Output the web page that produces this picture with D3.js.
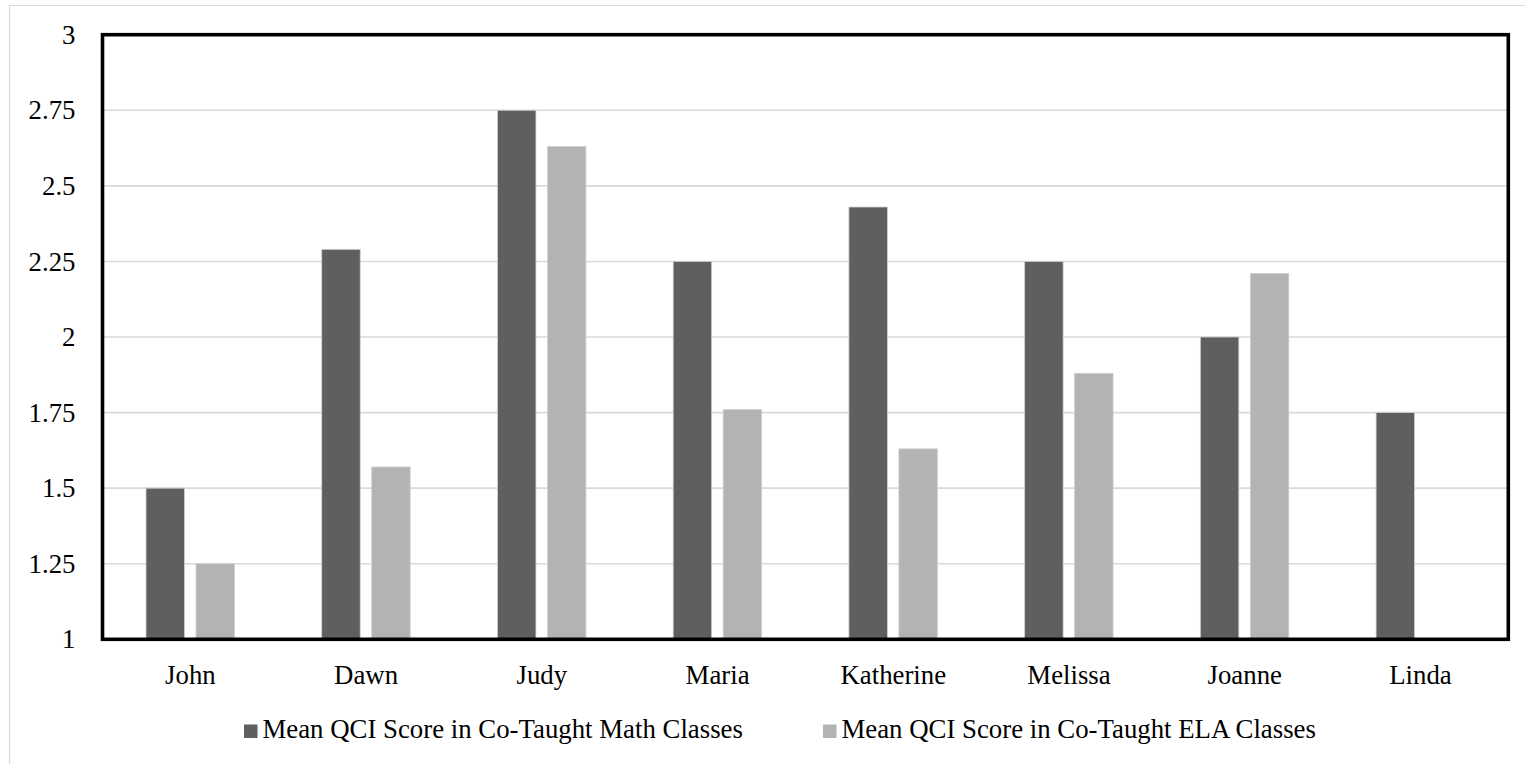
<!DOCTYPE html>
<html>
<head>
<meta charset="utf-8">
<script src="https://cdn.jsdelivr.net/npm/d3@7"></script>
<style>
  html, body { margin: 0; padding: 0; background: #fff; }
  svg { display: block; }
  text { font-family: "Liberation Serif", "Times New Roman", serif; fill: #000; }
</style>
</head>
<body>
<svg id="chart" width="1525" height="764"></svg>
<script>
// Teachers and their mean QCI scores
const teachers = ["John", "Dawn", "Judy", "Maria", "Katherine", "Melissa", "Joanne", "Linda"];
const mathScores = [1.5, 2.29, 2.75, 2.25, 2.43, 2.25, 2.0, 1.75];
const elaScores = [1.25, 1.57, 2.63, 1.76, 1.63, 1.88, 2.21, null];
const seriesNames = ["Mean QCI Score in Co-Taught Math Classes", "Mean QCI Score in Co-Taught ELA Classes"];
const seriesColors = ["#5f5f5f", "#b3b3b3"];
const yTicks = [1, 1.25, 1.5, 1.75, 2, 2.25, 2.5, 2.75, 3];

const svg = d3.select("#chart");
const W = 1525, H = 764;
const plot = { left: 102.5, top: 34.7, right: 1508.3, bottom: 639.3 };
const fontSize = 26.8;
const serif = '"Liberation Serif", "Times New Roman", serif';

// outer frame of the chart area
svg.append("path")
  .attr("d", `M9.5,${H} V5.5 H${W}`)
  .attr("fill", "none")
  .attr("stroke", "#d9d9d9")
  .attr("stroke-width", 1.2);

const x = d3.scaleBand().domain(teachers).range([plot.left, plot.right]).padding(0);
const y = d3.scaleLinear().domain([1, 3]).range([plot.bottom, plot.top]);
const bw = x.bandwidth();

// horizontal gridlines
svg.append("g")
  .selectAll("line")
  .data(yTicks.filter(t => t > 1 && t < 3))
  .join("line")
  .attr("x1", plot.left)
  .attr("x2", plot.right)
  .attr("y1", d => y(d))
  .attr("y2", d => y(d))
  .attr("stroke", "#d9d9d9")
  .attr("stroke-width", 1.6);

// bars
const barOffset = [0.2476 * bw, 0.532 * bw];
const barWidth = 0.219 * bw;
const rows = [];
teachers.forEach((t, i) => {
  [mathScores[i], elaScores[i]].forEach((v, s) => {
    if (v != null) rows.push({ t, v, s });
  });
});
svg.append("g")
  .selectAll("rect")
  .data(rows)
  .join("rect")
  .attr("x", d => x(d.t) + barOffset[d.s])
  .attr("width", barWidth)
  .attr("y", d => y(d.v))
  .attr("height", d => y(1) - y(d.v))
  .attr("fill", d => seriesColors[d.s])
  .attr("stroke", "#d0d0d0")
  .attr("stroke-width", 0.8);

// plot border
svg.append("rect")
  .attr("x", plot.left)
  .attr("y", plot.top)
  .attr("width", plot.right - plot.left)
  .attr("height", plot.bottom - plot.top)
  .attr("fill", "none")
  .attr("stroke", "#000")
  .attr("stroke-width", 3.6);

// y axis labels
const yAxis = d3.axisLeft(y).tickValues(yTicks).tickSize(0).tickPadding(27)
  .tickFormat(d => String(+d.toFixed(2)));
const gy = svg.append("g").attr("transform", `translate(${plot.left},0)`).call(yAxis);
gy.attr("font-family", serif);
gy.select(".domain").remove();
gy.selectAll("text")
  .style("font-family", serif)
  .style("font-size", fontSize + "px")
  .attr("fill", "#000");

// x axis labels
const xAxis = d3.axisBottom(x).tickSize(0).tickPadding(0);
const gx = svg.append("g").attr("transform", `translate(0,${plot.bottom})`).call(xAxis);
gx.attr("font-family", serif);
gx.select(".domain").remove();
gx.selectAll("text")
  .attr("dy", null)
  .attr("y", 684 - plot.bottom)
  .style("font-family", serif)
  .style("font-size", fontSize + "px")
  .attr("fill", "#000");

// legend
const legendX = [244, 823];
const legend = svg.append("g");
seriesNames.forEach((name, i) => {
  legend.append("rect")
    .attr("x", legendX[i])
    .attr("y", 724.5)
    .attr("width", 13.5)
    .attr("height", 13.5)
    .attr("fill", seriesColors[i]);
  legend.append("text")
    .attr("x", legendX[i] + 18.5)
    .attr("y", 737.5)
    .style("font-size", fontSize + "px")
    .text(name);
});
</script>
</body>
</html>
